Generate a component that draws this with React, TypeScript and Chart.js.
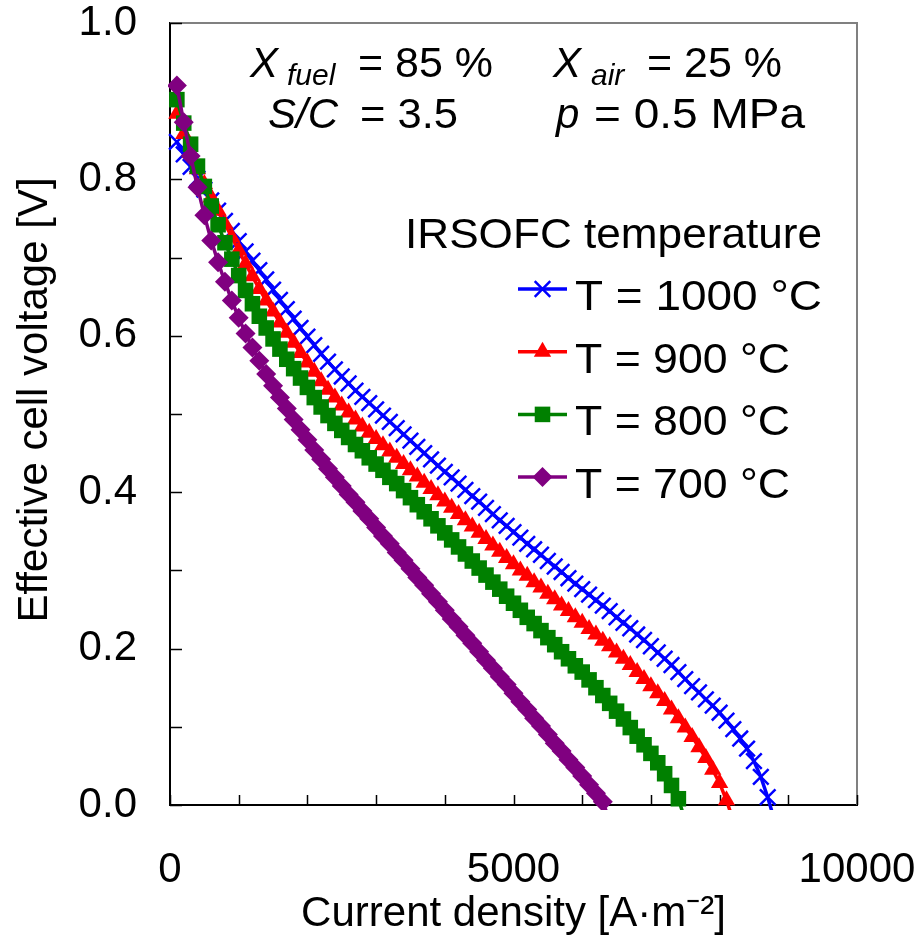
import React, { useEffect, useRef } from 'react';
import { Chart, registerables } from 'chart.js';

Chart.register(...registerables);

const FONT = "'Liberation Sans', Arial, Helvetica, sans-serif";

// Current density [A/m2] sample points
const currents = [
  100, 200, 300, 400, 500, 600, 700, 800, 900, 1000,
  1100, 1200, 1300, 1400, 1500, 1600, 1700, 1800, 1900, 2000,
  2100, 2200, 2300, 2400, 2500, 2600, 2700, 2800, 2900, 3000,
  3100, 3200, 3300, 3400, 3500, 3600, 3700, 3800, 3900, 4000,
  4100, 4200, 4300, 4400, 4500, 4600, 4700, 4800, 4900, 5000,
  5100, 5200, 5300, 5400, 5500, 5600, 5700, 5800, 5900, 6000,
  6100, 6200, 6300, 6400, 6500, 6600, 6700, 6800, 6900, 7000,
  7100, 7200, 7300, 7400, 7500, 7600, 7700, 7800, 7900, 8000,
  8100, 8200, 8300, 8400, 8500, 8600, 8700, 8800,
];

// Effective cell voltage [V]
const v1000 = [
  0.848, 0.832, 0.816, 0.801, 0.787, 0.773, 0.760, 0.747, 0.734, 0.721,
  0.708, 0.696, 0.684, 0.672, 0.659, 0.646, 0.634, 0.622, 0.610, 0.599,
  0.588, 0.577, 0.567, 0.557, 0.548, 0.539, 0.530, 0.522, 0.514, 0.506,
  0.498, 0.490, 0.482, 0.474, 0.466, 0.458, 0.450, 0.442, 0.434, 0.426,
  0.419, 0.411, 0.403, 0.395, 0.388, 0.380, 0.372, 0.364, 0.357, 0.349,
  0.342, 0.334, 0.327, 0.320, 0.312, 0.305, 0.298, 0.290, 0.283, 0.276,
  0.269, 0.262, 0.255, 0.248, 0.240, 0.233, 0.226, 0.218, 0.211, 0.203,
  0.195, 0.187, 0.179, 0.170, 0.161, 0.152, 0.144, 0.135, 0.127, 0.118,
  0.108, 0.097, 0.085, 0.072, 0.056, 0.036, 0.010, -0.020,
];

const v900 = [
  0.884, 0.858, 0.834, 0.813, 0.794, 0.777, 0.760, 0.743, 0.726, 0.709,
  0.692, 0.676, 0.660, 0.645, 0.631, 0.617, 0.604, 0.591, 0.578, 0.566,
  0.554, 0.542, 0.531, 0.521, 0.511, 0.502, 0.493, 0.484, 0.476, 0.468,
  0.460, 0.452, 0.444, 0.436, 0.428, 0.420, 0.412, 0.404, 0.396, 0.388,
  0.380, 0.372, 0.364, 0.356, 0.348, 0.340, 0.332, 0.324, 0.316, 0.308,
  0.300, 0.293, 0.285, 0.278, 0.270, 0.263, 0.255, 0.248, 0.240, 0.233,
  0.225, 0.218, 0.210, 0.203, 0.195, 0.187, 0.179, 0.170, 0.161, 0.152,
  0.143, 0.133, 0.122, 0.111, 0.099, 0.087, 0.074, 0.060, 0.045, 0.028,
  0.006, -0.020,
];

const v800 = [
  0.902, 0.872, 0.845, 0.817, 0.791, 0.766, 0.742, 0.719, 0.698, 0.677,
  0.658, 0.641, 0.625, 0.610, 0.596, 0.583, 0.570, 0.558, 0.546, 0.534,
  0.521, 0.509, 0.498, 0.488, 0.479, 0.470, 0.461, 0.453, 0.444, 0.436,
  0.428, 0.419, 0.411, 0.402, 0.393, 0.384, 0.375, 0.366, 0.357, 0.348,
  0.339, 0.330, 0.321, 0.312, 0.303, 0.294, 0.285, 0.276, 0.267, 0.258,
  0.249, 0.240, 0.232, 0.223, 0.214, 0.205, 0.196, 0.187, 0.178, 0.170,
  0.160, 0.150, 0.140, 0.130, 0.120, 0.110, 0.099, 0.088, 0.077, 0.066,
  0.054, 0.040, 0.025, 0.008, -0.020,
];

const v700 = [
  0.920, 0.873, 0.830, 0.790, 0.754, 0.722, 0.694, 0.669, 0.645, 0.623,
  0.603, 0.585, 0.568, 0.551, 0.536, 0.521, 0.507, 0.493, 0.480, 0.467,
  0.454, 0.442, 0.430, 0.419, 0.408, 0.397, 0.387, 0.376, 0.366, 0.355,
  0.344, 0.334, 0.323, 0.313, 0.302, 0.291, 0.281, 0.270, 0.260, 0.249,
  0.238, 0.228, 0.217, 0.207, 0.196, 0.185, 0.175, 0.164, 0.154, 0.143,
  0.132, 0.122, 0.111, 0.101, 0.090, 0.079, 0.069, 0.058, 0.048, 0.037,
  0.026, 0.015, 0.004, -0.020,
];

const seriesLabels = ['T = 1000 °C', 'T = 900 °C', 'T = 800 °C', 'T = 700 °C'];
const seriesValues = [v1000, v900, v800, v700];
const seriesColors = ['#0000FF', '#FF0000', '#008000', '#800080'];
const seriesMarkers = ['crossRot', 'triangle', 'rect', 'rectRot'];
const markerRadius = [11, 10, 11, 10];

const xTickLabels = [0, 5000, 10000];
const yTickLabels = [0, 0.2, 0.4, 0.6, 0.8, 1.0];

const legendTitle = 'IRSOFC temperature';
const xTitle = 'Current density [A·m⁻²]';
const yTitle = 'Effective cell voltage [V]';

function fitText(ctx: CanvasRenderingContext2D, text: string, x: number, y: number, font: string, target?: number) {
  ctx.font = font;
  const w = ctx.measureText(text).width;
  const k = target ? target / w : 1;
  ctx.save();
  ctx.translate(x, y);
  ctx.scale(k, 1);
  ctx.textAlign = 'left';
  ctx.textBaseline = 'alphabetic';
  ctx.fillText(text, 0, 0);
  ctx.restore();
}

function drawMarker(ctx: CanvasRenderingContext2D, style: string, x: number, y: number, r: number, color: string) {
  ctx.save();
  ctx.fillStyle = color;
  ctx.strokeStyle = color;
  ctx.beginPath();
  if (style === 'crossRot') {
    const o = r * Math.SQRT1_2;
    ctx.lineWidth = 2.5;
    ctx.moveTo(x - o, y - o); ctx.lineTo(x + o, y + o);
    ctx.moveTo(x + o, y - o); ctx.lineTo(x - o, y + o);
    ctx.stroke();
  } else if (style === 'triangle') {
    for (let i = 0; i < 3; i++) {
      const a = (i * 2 * Math.PI) / 3;
      const px = x + Math.sin(a) * r;
      const py = y - Math.cos(a) * r;
      if (i === 0) ctx.moveTo(px, py); else ctx.lineTo(px, py);
    }
    ctx.closePath();
    ctx.fill();
  } else if (style === 'rect') {
    const s = r * Math.SQRT1_2;
    ctx.rect(x - s, y - s, 2 * s, 2 * s);
    ctx.fill();
  } else {
    ctx.moveTo(x - r, y); ctx.lineTo(x, y - r); ctx.lineTo(x + r, y); ctx.lineTo(x, y + r);
    ctx.closePath();
    ctx.fill();
  }
  ctx.restore();
}

const framePlugin = {
  id: 'frame',
  beforeDatasetsDraw(chart: any) {
    const { ctx, chartArea: a, scales } = chart;
    const xs = scales.x;
    const ys = scales.y;
    ctx.save();
    ctx.strokeStyle = '#808080';
    ctx.lineWidth = 2;
    ctx.beginPath();
    ctx.moveTo(a.left, a.top);
    ctx.lineTo(a.right, a.top);
    ctx.lineTo(a.right, a.bottom);
    ctx.stroke();
    ctx.strokeStyle = '#000';
    ctx.lineWidth = 1.5;
    ctx.beginPath();
    for (const t of ys.ticks) {
      const py = Math.round(ys.getPixelForValue(t.value)) + 0.5;
      ctx.moveTo(a.left, py);
      ctx.lineTo(a.left + 12, py);
    }
    for (const t of xs.ticks) {
      const px = Math.round(xs.getPixelForValue(t.value)) + 0.5;
      ctx.moveTo(px, a.bottom);
      ctx.lineTo(px, a.bottom - 10);
    }
    ctx.stroke();
    ctx.restore();
  },
  afterDraw(chart: any) {
    const { ctx } = chart;
    ctx.save();
    ctx.fillStyle = '#000';

    // Y axis title
    ctx.save();
    ctx.translate(35, 400);
    ctx.rotate(-Math.PI / 2);
    ctx.font = `42px ${FONT}`;
    ctx.textAlign = 'center';
    ctx.textBaseline = 'middle';
    ctx.fillText(yTitle, 0, 0);
    ctx.restore();

    // Conditions annotation
    fitText(ctx, 'X', 250, 77, `italic 42px ${FONT}`);
    fitText(ctx, 'fuel', 287, 85, `italic 30px ${FONT}`);
    fitText(ctx, '= 85 %', 358, 77, `42px ${FONT}`, 135);
    fitText(ctx, 'X', 553, 77, `italic 42px ${FONT}`);
    fitText(ctx, 'air', 591, 85, `italic 30px ${FONT}`);
    fitText(ctx, '= 25 %', 647, 77, `42px ${FONT}`, 135);
    fitText(ctx, 'S/C', 268, 128, `italic 42px ${FONT}`);
    fitText(ctx, '= 3.5', 360, 128, `42px ${FONT}`, 98);
    fitText(ctx, 'p', 556, 128, `italic 42px ${FONT}`);
    fitText(ctx, '= 0.5 MPa', 594, 128, `42px ${FONT}`, 211);

    // Legend
    fitText(ctx, legendTitle, 405, 248, `42px ${FONT}`, 417);
    const textW = [247, 215, 215, 215];
    for (let i = 0; i < seriesLabels.length; i++) {
      const ly = 289 + i * 62.7;
      ctx.save();
      ctx.strokeStyle = seriesColors[i];
      ctx.lineWidth = 3.5;
      ctx.beginPath();
      ctx.moveTo(518, ly);
      ctx.lineTo(567, ly);
      ctx.stroke();
      ctx.restore();
      drawMarker(ctx, seriesMarkers[i], 542.5, ly, markerRadius[i], seriesColors[i]);
      ctx.fillStyle = '#000';
      fitText(ctx, seriesLabels[i], 575, ly + 21, `42px ${FONT}`, textW[i]);
    }
    ctx.restore();
  },
};

export default function App() {
  const ref = useRef<HTMLCanvasElement | null>(null);

  useEffect(() => {
    if (!ref.current) return;
    const datasets = seriesValues.map((vals, i) => ({
      label: seriesLabels[i],
      data: vals.map((v, j) => ({ x: currents[j], y: v })),
      borderColor: seriesColors[i],
      backgroundColor: seriesColors[i],
      borderWidth: 3.5,
      pointStyle: seriesMarkers[i] as any,
      pointRadius: markerRadius[i],
      pointBorderWidth: i === 0 ? 2.5 : 0,
      pointBorderColor: seriesColors[i],
      pointBackgroundColor: seriesColors[i],
      tension: 0,
      order: 4 - i,
      clip: { left: 2, top: 2, right: 2, bottom: 5 } as any,
    }));

    const chart = new Chart(ref.current, {
      type: 'line',
      data: { datasets },
      options: {
        responsive: false,
        animation: false,
        events: [],
        layout: { padding: { top: 23, right: 60, left: 0, bottom: 0 } },
        plugins: { legend: { display: false }, tooltip: { enabled: false } },
        scales: {
          x: {
            type: 'linear',
            min: 0,
            max: 10000,
            afterFit: (s: any) => { s.height = 144; s.paddingLeft = 0; s.paddingRight = 0; },
            grid: { display: false, drawTicks: false },
            border: { display: true, color: '#000', width: 2 },
            ticks: {
              stepSize: 1000,
              autoSkip: false,
              maxRotation: 0,
              padding: 40,
              color: '#000',
              font: { family: FONT, size: 42 },
              callback: (v: any) => (xTickLabels.includes(Number(v)) ? String(v) : ''),
            },
            title: {
              display: true,
              text: xTitle,
              color: '#000',
              font: { family: FONT, size: 42 },
              padding: { top: 0, bottom: 9 },
            },
          },
          y: {
            type: 'linear',
            min: 0,
            max: 1,
            afterFit: (s: any) => { s.width = 170; s.paddingTop = 0; s.paddingBottom = 0; },
            grid: { display: false, drawTicks: false },
            border: { display: true, color: '#000', width: 2 },
            ticks: {
              stepSize: 0.1,
              autoSkip: false,
              padding: 33,
              color: '#000',
              font: { family: FONT, size: 42 },
              callback: (v: any) =>
                yTickLabels.some((t) => Math.abs(t - Number(v)) < 1e-6) ? Number(v).toFixed(1) : '',
            },
          },
        },
      },
      plugins: [framePlugin],
    });
    return () => chart.destroy();
  }, []);

  return (
    <div style={{ position: 'fixed', left: 0, top: 0, width: 917, height: 949, background: '#fff' }}>
      <canvas ref={ref} width={917} height={949} style={{ display: 'block' }} />
    </div>
  );
}
